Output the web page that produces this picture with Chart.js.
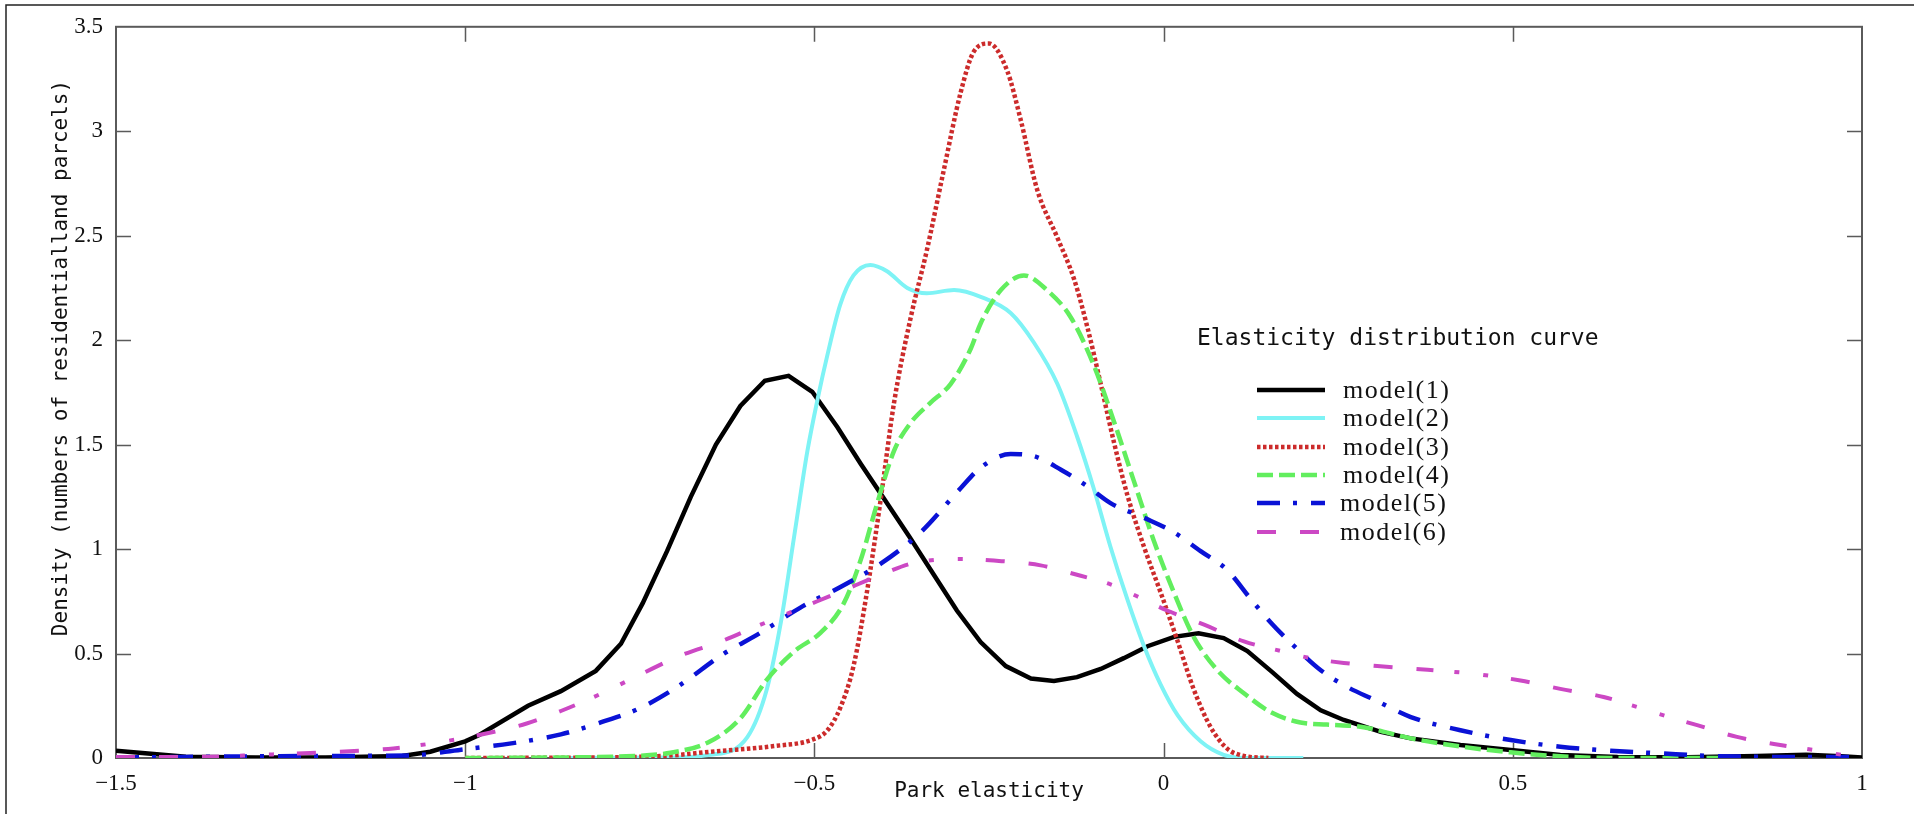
<!DOCTYPE html>
<html>
<head>
<meta charset="utf-8">
<script src="https://cdn.jsdelivr.net/npm/chart.js@4.4.1/dist/chart.umd.min.js"></script>
<style>
  html, body { margin: 0; padding: 0; background: #fff; overflow: hidden; }
  #wrap { width: 1914px; height: 814px; }
</style>
</head>
<body>
<div id="wrap"><canvas id="chart" width="1914" height="814"></canvas></div>
<script>
// tick values
const xTicks = [-1.5, -1, -0.5, 0, 0.5, 1];
const yTicks = [0, 0.5, 1, 1.5, 2, 2.5, 3, 3.5];

const seriesNames = ['model(1)', 'model(2)', 'model(3)', 'model(4)', 'model(5)', 'model(6)'];

// [elasticity, density]
const model1 = [[-1.5, 0.035], [-1.45, 0.02], [-1.4, 0.006], [-1.3, 0.002], [-1.2, 0.002], [-1.09, 0.01],
  [-1.05, 0.03], [-1.0, 0.08], [-0.98, 0.11], [-0.91, 0.25], [-0.863, 0.32], [-0.813, 0.417], [-0.777, 0.547],
  [-0.746, 0.74], [-0.711, 0.99], [-0.677, 1.25], [-0.641, 1.5], [-0.606, 1.685], [-0.571, 1.806], [-0.537, 1.829],
  [-0.503, 1.753], [-0.467, 1.583], [-0.434, 1.41], [-0.4, 1.24], [-0.364, 1.059], [-0.329, 0.877], [-0.296, 0.706],
  [-0.262, 0.555], [-0.226, 0.44], [-0.19, 0.38], [-0.157, 0.369], [-0.124, 0.387], [-0.09, 0.426], [-0.057, 0.478],
  [-0.023, 0.535], [0.015, 0.58], [0.05, 0.597], [0.086, 0.574], [0.12, 0.512], [0.156, 0.41], [0.191, 0.307],
  [0.225, 0.228], [0.258, 0.182], [0.311, 0.125], [0.354, 0.094], [0.425, 0.062], [0.497, 0.038], [0.568, 0.014],
  [0.65, 0.005], [0.75, 0.003], [0.85, 0.01], [0.92, 0.015], [0.97, 0.008], [1.0, 0.002]];
const model2 = [[-0.85, 0], [-0.72, 0.002], [-0.649, 0.015], [-0.596, 0.1], [-0.568, 0.33], [-0.548, 0.65],
  [-0.529, 1.06], [-0.51, 1.47], [-0.494, 1.74], [-0.482, 1.92], [-0.463, 2.17], [-0.444, 2.31], [-0.42, 2.36],
  [-0.396, 2.33], [-0.367, 2.25], [-0.339, 2.225], [-0.3, 2.24], [-0.26, 2.205], [-0.219, 2.13], [-0.186, 1.99],
  [-0.152, 1.79], [-0.124, 1.54], [-0.1, 1.29], [-0.076, 1.01], [-0.052, 0.76], [-0.028, 0.535], [-0.004, 0.35],
  [0.02, 0.205], [0.053, 0.08], [0.086, 0.015], [0.12, 0], [0.2, 0]];
const model3 = [[-1.0, 0], [-0.8, 0.003], [-0.71, 0.011], [-0.649, 0.03], [-0.558, 0.057], [-0.501, 0.09],
  [-0.482, 0.13], [-0.463, 0.24], [-0.444, 0.44], [-0.425, 0.79], [-0.405, 1.24], [-0.386, 1.7], [-0.362, 2.11],
  [-0.339, 2.43], [-0.315, 2.81], [-0.291, 3.18], [-0.272, 3.38], [-0.25, 3.42], [-0.224, 3.29], [-0.205, 3.06],
  [-0.181, 2.72], [-0.152, 2.49], [-0.128, 2.29], [-0.109, 2.06], [-0.09, 1.79], [-0.071, 1.51], [-0.052, 1.26],
  [-0.028, 1.01], [-0.004, 0.79], [0.02, 0.56], [0.043, 0.33], [0.067, 0.15], [0.091, 0.045], [0.115, 0.01], [0.15, 0]];
const model4 = [[-1.0, 0], [-0.85, 0.003], [-0.77, 0.008], [-0.706, 0.025], [-0.649, 0.08], [-0.606, 0.19],
  [-0.568, 0.375], [-0.529, 0.51], [-0.491, 0.6], [-0.458, 0.74], [-0.434, 0.945], [-0.41, 1.22], [-0.386, 1.47],
  [-0.362, 1.605], [-0.334, 1.7], [-0.305, 1.79], [-0.276, 1.96], [-0.262, 2.08], [-0.233, 2.24], [-0.2, 2.31],
  [-0.167, 2.24], [-0.133, 2.11], [-0.1, 1.88], [-0.071, 1.61], [-0.043, 1.33], [-0.014, 1.04], [0.015, 0.79],
  [0.043, 0.58], [0.077, 0.42], [0.115, 0.31], [0.153, 0.22], [0.196, 0.17], [0.234, 0.16], [0.282, 0.15],
  [0.354, 0.094], [0.425, 0.055], [0.497, 0.027], [0.568, 0.008], [0.64, 0], [0.8, 0]];
const model5 = [[-1.5, 0.002], [-1.3, 0.008], [-1.2, 0.01], [-1.08, 0.012], [-1.006, 0.04], [-0.934, 0.07],
  [-0.863, 0.113], [-0.806, 0.17], [-0.749, 0.24], [-0.692, 0.35], [-0.634, 0.49], [-0.577, 0.6], [-0.52, 0.72],
  [-0.462, 0.82], [-0.405, 0.93], [-0.348, 1.08], [-0.291, 1.29], [-0.262, 1.39], [-0.219, 1.455], [-0.186, 1.445],
  [-0.147, 1.38], [-0.109, 1.3], [-0.076, 1.22], [-0.028, 1.15], [0.015, 1.08], [0.053, 0.99], [0.091, 0.9],
  [0.125, 0.76], [0.153, 0.65], [0.187, 0.535], [0.225, 0.42], [0.263, 0.34], [0.301, 0.28], [0.354, 0.196],
  [0.425, 0.133], [0.497, 0.086], [0.568, 0.054], [0.64, 0.035], [0.712, 0.022], [0.783, 0.01], [0.9, 0.005], [1.0, 0.005]];
const model6 = [[-1.5, 0.005], [-1.365, 0.006], [-1.294, 0.015], [-1.222, 0.024], [-1.151, 0.035], [-1.103, 0.046],
  [-1.032, 0.078], [-0.97, 0.117], [-0.912, 0.165], [-0.863, 0.225], [-0.806, 0.307], [-0.749, 0.4], [-0.692, 0.49],
  [-0.634, 0.558], [-0.577, 0.638], [-0.52, 0.717], [-0.462, 0.797], [-0.405, 0.877], [-0.357, 0.934], [-0.291, 0.953],
  [-0.243, 0.945], [-0.176, 0.922], [-0.124, 0.877], [-0.076, 0.831], [-0.038, 0.774], [0.005, 0.706], [0.058, 0.638],
  [0.115, 0.558], [0.168, 0.512], [0.21, 0.478], [0.258, 0.455], [0.306, 0.44], [0.378, 0.422], [0.444, 0.403],
  [0.511, 0.371], [0.568, 0.331], [0.63, 0.292], [0.678, 0.244], [0.716, 0.204], [0.764, 0.157], [0.821, 0.101],
  [0.883, 0.062], [0.931, 0.038], [0.974, 0.014], [1.0, 0.005]];

const seriesData = [model1, model2, model3, model4, model5, model6];

// line styles
const styles = [
  { color: '#000000', width: 4.5, dash: [] },
  { color: '#7ef3f5', width: 4, dash: [] },
  { color: '#cc2b2b', width: 4.5, dash: [3.5, 2.5] },
  { color: '#62ee5e', width: 4.5, dash: [16, 6] },
  { color: '#0a12d6', width: 4.5, dash: [23, 13, 4, 14] },
  { color: '#cc48c4', width: 4, dash: [19, 24, 19, 24, 17, 21, 5, 24, 5, 23] }
];

const yTitle = 'Density (numbers of residentialland parcels)';
const xTitle = 'Park elasticity';
const legendTitle = 'Elasticity distribution curve';

function fmt(v) {
  return (v < 0 ? '\u2212' : '') + Math.abs(v);
}

const datasets = seriesData.map((d, i) => ({
  label: seriesNames[i],
  data: d,
  borderColor: styles[i].color,
  borderWidth: styles[i].width,
  borderDash: styles[i].dash,
  borderCapStyle: 'butt',
  pointRadius: 0,
  fill: false,
  tension: i === 0 ? 0 : 0.4,
  cubicInterpolationMode: i === 0 ? 'default' : 'monotone',
  order: 6 - i
}));

const framePlugin = {
  id: 'framePlugin',
  beforeDraw(chart) {
    const ctx = chart.ctx;
    ctx.save();
    ctx.fillStyle = '#fff';
    ctx.fillRect(0, 0, chart.width, chart.height);
    ctx.strokeStyle = '#222';
    ctx.lineWidth = 1.5;
    ctx.beginPath();
    ctx.moveTo(6, chart.height);
    ctx.lineTo(6, 5);
    ctx.lineTo(chart.width, 5);
    ctx.stroke();
    ctx.restore();
  },
  beforeDatasetsDraw(chart) {
    const { ctx, chartArea: a, scales: { x, y } } = chart;
    ctx.save();
    ctx.strokeStyle = '#5a5a5a';
    ctx.lineWidth = 2;
    ctx.strokeRect(a.left, a.top, a.right - a.left, a.bottom - a.top);
    ctx.lineWidth = 1.5;
    ctx.beginPath();
    xTicks.slice(1, -1).forEach(v => {
      const px = Math.round(x.getPixelForValue(v)) + 0.5;
      ctx.moveTo(px, a.bottom); ctx.lineTo(px, a.bottom - 15);
      ctx.moveTo(px, a.top); ctx.lineTo(px, a.top + 15);
    });
    yTicks.slice(1, -1).forEach(v => {
      const py = Math.round(y.getPixelForValue(v)) + 0.5;
      ctx.moveTo(a.left, py); ctx.lineTo(a.left + 15, py);
      ctx.moveTo(a.right, py); ctx.lineTo(a.right - 15, py);
    });
    ctx.stroke();
    ctx.restore();
  },
  afterDraw(chart) {
    const ctx = chart.ctx;
    ctx.save();
    // y axis title
    ctx.fillStyle = '#111';
    ctx.font = '21px "DejaVu Sans Mono"';
    ctx.textAlign = 'center';
    ctx.textBaseline = 'middle';
    ctx.translate(62, 358);
    ctx.rotate(-Math.PI / 2);
    ctx.fillText(yTitle, 0, 0);
    ctx.restore();

    // legend
    ctx.save();
    ctx.fillStyle = '#111';
    ctx.font = '23px "DejaVu Sans Mono"';
    ctx.textAlign = 'left';
    ctx.textBaseline = 'middle';
    ctx.fillText(legendTitle, 1197, 339);
    const rows = [390, 418, 447, 475, 503, 532];
    chart.data.datasets.forEach((ds, i) => {
      const ry = rows[i];
      ctx.save();
      ctx.strokeStyle = ds.borderColor;
      ctx.lineWidth = ds.borderWidth;
      ctx.setLineDash(ds.borderDash);
      ctx.lineCap = 'butt';
      ctx.beginPath();
      ctx.moveTo(1257, ry);
      ctx.lineTo(1325, ry);
      ctx.stroke();
      ctx.restore();
      ctx.save();
      ctx.font = '26px "Liberation Serif"';
      ctx.letterSpacing = '1.5px';
      ctx.fillStyle = '#111';
      ctx.textBaseline = 'middle';
      ctx.fillText(ds.label, i < 4 ? 1343 : 1340, ry + 1);
      ctx.restore();
    });
    ctx.restore();
  }
};

new Chart(document.getElementById('chart'), {
  type: 'line',
  data: { datasets: datasets },
  options: {
    responsive: false,
    animation: false,
    devicePixelRatio: 1,
    layout: { padding: { left: 0, top: 22, right: 52, bottom: 0 } },
    plugins: { legend: { display: false }, tooltip: { enabled: false } },
    scales: {
      x: {
        type: 'linear',
        min: -1.5,
        max: 1,
        afterBuildTicks: s => { s.ticks = xTicks.map(v => ({ value: v })); },
        afterFit: s => { s.height = 56; s.paddingLeft = 0; s.paddingRight = 0; },
        grid: { display: false, drawTicks: false },
        border: { display: false },
        ticks: {
          autoSkip: false,
          maxRotation: 0,
          padding: 12,
          color: '#111',
          font: { family: '"Liberation Serif"', size: 23 },
          callback: v => fmt(v)
        },
        title: {
          display: true,
          text: xTitle,
          color: '#111',
          font: { family: '"DejaVu Sans Mono"', size: 21 },
          padding: { top: 0, bottom: 10 }
        }
      },
      y: {
        type: 'linear',
        min: 0,
        max: 3.5,
        afterBuildTicks: s => { s.ticks = yTicks.map(v => ({ value: v })); },
        afterFit: s => { s.width = 116; },
        grid: { display: false, drawTicks: false },
        border: { display: false },
        ticks: {
          autoSkip: false,
          padding: 13,
          color: '#111',
          font: { family: '"Liberation Serif"', size: 23 },
          callback: v => fmt(v)
        }
      }
    }
  },
  plugins: [framePlugin]
});
</script>
</body>
</html>
